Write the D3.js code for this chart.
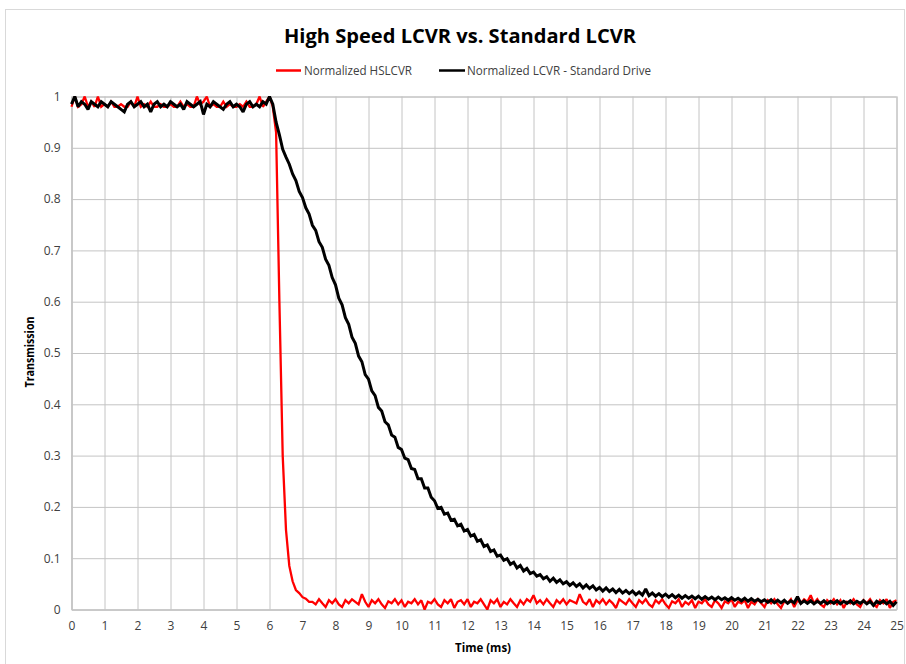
<!DOCTYPE html>
<html><head><meta charset="utf-8">
<script src="https://cdn.jsdelivr.net/npm/d3@7"></script>
<style>body{margin:0;background:#fff} svg{display:block}</style>
</head><body><svg id="c" width="906" height="664"></svg>
<script>
const chartTitle = "High Speed LCVR vs. Standard LCVR";
const seriesNames = ["Normalized HSLCVR", "Normalized LCVR - Standard Drive"];
const seriesColors = ["#ff0000", "#000000"];
const xAxisTitle = "Time (ms)";
const yAxisTitle = "Transmission";
const sampleStep = 0.1; // ms between samples, first sample at 0 ms
const xTickValues = [0,1,2,3,4,5,6,7,8,9,10,11,12,13,14,15,16,17,18,19,20,21,22,23,24,25];
const yTickValues = [0,0.1,0.2,0.3,0.4,0.5,0.6,0.7,0.8,0.9,1];

// Normalized HSLCVR (red), one value per 0.1 ms from 0 to 25 ms
const hslcvrValues = [
0.98,1.0,0.98,0.985,1.0,0.98,0.99,0.98,1.0,0.98,
0.985,0.98,0.99,0.98,0.98,0.985,0.98,0.98,0.99,0.98,
1.0,0.98,0.985,0.98,0.99,0.98,0.98,0.985,0.98,0.98,
0.985,0.98,0.98,0.99,0.98,0.985,0.98,0.98,1.0,0.985,
0.99,1.0,0.98,0.985,0.98,0.98,0.99,0.98,0.985,0.98,
0.98,0.985,0.98,0.99,0.98,0.98,0.985,1.0,0.98,0.99,
1.0,0.98,
0.93,0.60,0.30,0.155,0.085,0.055,0.038,0.032,0.024,0.021,0.015,
0.015,0.01,0.02,0.012,0.005,0.018,0.012,0.02,0.01,0.005,
0.018,0.012,0.02,0.015,0.01,0.03,0.015,0.005,0.018,0.012,
0.02,0.01,0.003,0.016,0.012,0.02,0.01,0.018,0.005,0.015,
0.012,0.02,0.01,0.018,0.0,0.015,0.012,0.02,0.01,0.005,
0.018,0.012,0.02,0.003,0.015,0.018,0.01,0.02,0.005,0.015,
0.012,0.02,0.01,0.0,0.018,0.012,0.02,0.005,0.015,0.01,
0.02,0.012,0.005,0.018,0.01,0.02,0.015,0.028,0.012,0.018,
0.01,0.02,0.012,0.005,0.018,0.012,0.02,0.01,0.018,0.015,
0.012,0.03,0.015,0.01,0.02,0.005,0.018,0.012,0.02,0.01,
0.018,0.012,0.003,0.02,0.015,0.01,0.02,0.012,0.005,0.018,
0.012,0.02,0.01,0.005,0.018,0.012,0.02,0.01,0.003,0.016,
0.012,0.02,0.005,0.015,0.01,0.018,0.003,0.015,0.012,0.02,
0.01,0.005,0.018,0.012,0.003,0.016,0.012,0.02,0.005,0.015,
0.012,0.018,0.003,0.015,0.01,0.02,0.012,0.005,0.018,0.012,
0.02,0.01,0.003,0.016,0.012,0.02,0.005,0.018,0.012,0.02,
0.015,0.028,0.012,0.02,0.01,0.005,0.018,0.012,0.02,0.01,
0.018,0.003,0.015,0.012,0.02,0.01,0.005,0.018,0.012,0.02,
0.01,0.005,0.018,0.012,0.02,0.003,0.015,0.018
];

// Normalized LCVR - Standard Drive (black), one value per 0.1 ms from 0 to 25 ms
const standardValues = [
0.985,1.0,0.98,0.99,0.985,0.975,0.99,0.985,0.98,0.99,
0.985,0.98,0.99,0.985,0.98,0.975,0.97,0.985,0.99,0.98,
0.985,0.99,0.98,0.985,0.97,0.985,0.99,0.98,0.985,0.98,
0.99,0.985,0.98,0.985,0.975,0.99,0.985,0.98,0.985,0.99,
0.965,0.985,0.98,0.99,0.985,0.98,0.975,0.985,0.99,0.98,
0.985,0.98,0.97,0.985,0.99,0.98,0.985,0.98,0.99,0.985,
1.0,0.985,
0.95,0.925,0.897,0.882,0.868,0.849,0.836,0.815,0.803,0.783,
0.771,0.749,0.739,0.717,0.706,0.683,0.671,0.647,0.633,0.607,
0.594,0.569,0.556,0.531,0.519,0.494,0.483,0.458,0.449,0.426,
0.417,0.394,0.387,0.366,0.360,0.340,0.336,0.316,0.312,0.295,
0.292,0.275,0.273,0.255,0.255,0.237,0.237,0.219,0.212,0.197,
0.199,0.186,0.188,0.174,0.176,0.163,0.166,0.153,0.156,0.143,
0.146,0.133,0.136,0.123,0.126,0.113,0.116,0.104,0.106,0.096,
0.099,0.088,0.092,0.081,0.086,0.075,0.080,0.070,0.073,0.065,
0.068,0.060,0.064,0.055,0.061,0.053,0.058,0.050,0.054,0.047,
0.052,0.045,0.050,0.042,0.048,0.041,0.046,0.038,0.043,0.036,
0.042,0.035,0.040,0.033,0.039,0.032,0.037,0.031,0.036,0.029,
0.034,0.028,0.040,0.027,0.032,0.026,0.031,0.025,0.030,0.024,
0.029,0.023,0.028,0.022,0.027,0.022,0.026,0.021,0.026,0.020,
0.025,0.020,0.024,0.019,0.024,0.019,0.023,0.018,0.023,0.018,
0.022,0.017,0.022,0.016,0.021,0.016,0.020,0.015,0.019,0.014,
0.019,0.013,0.018,0.013,0.018,0.012,0.017,0.013,0.025,0.012,
0.017,0.012,0.017,0.011,0.016,0.012,0.017,0.011,0.016,0.012,
0.017,0.011,0.016,0.012,0.017,0.011,0.016,0.012,0.017,0.011,
0.016,0.008,0.016,0.012,0.017,0.011,0.016,0.008,0.015
];

const svg = d3.select("#c");
const W = 906, H = 664;
svg.append("rect").attr("width", W).attr("height", H).attr("fill", "#fff");
svg.append("rect").attr("x", 5.5).attr("y", 9.5).attr("width", 899).attr("height", 670)
  .attr("fill", "none").attr("stroke", "#d9d9d9").attr("stroke-width", 1);

const plotLeft = 71.5, plotRight = 896.5, plotTop = 96.5, plotBottom = 609.5;
const x = d3.scaleLinear().domain([0, 25]).range([plotLeft, plotRight]);
const y = d3.scaleLinear().domain([0, 1]).range([plotBottom, plotTop]);

const fontFam = "'Open Sans', 'Liberation Sans', sans-serif";

// gridlines + axes
const gx = svg.append("g").attr("transform", `translate(0,${plotBottom})`)
  .call(d3.axisBottom(x).tickValues(xTickValues).tickSize(-(plotBottom - plotTop)).tickPadding(12).tickFormat(d => d));
const gy = svg.append("g").attr("transform", `translate(${plotLeft},0)`)
  .call(d3.axisLeft(y).tickValues(yTickValues).tickSize(-(plotRight - plotLeft)).tickPadding(11).tickFormat(d => d));
[gx, gy].forEach(g => {
  g.select(".domain").attr("stroke", "#bfbfbf");
  g.selectAll(".tick line").attr("stroke", "#c4c4c4").attr("stroke-width", 1);
  g.selectAll(".tick text").attr("fill", "#404040").attr("font-size", 12).attr("font-family", fontFam);
});

// series
const line = d3.line().x((d, i) => x(i * sampleStep)).y(d => y(d));
const allSeries = [hslcvrValues, standardValues];
allSeries.forEach((vals, k) => {
  svg.append("path").datum(vals).attr("d", line)
    .attr("fill", "none").attr("stroke", seriesColors[k])
    .attr("stroke-width", k === 0 ? 2.3 : 3).attr("stroke-linejoin", "miter").attr("stroke-miterlimit", 2);
});

// title
svg.append("text").attr("x", 460).attr("y", 43).attr("text-anchor", "middle")
  .attr("font-family", fontFam).attr("font-weight", "bold").attr("font-size", 20)
  .attr("textLength", 352).attr("lengthAdjust", "spacingAndGlyphs")
  .attr("fill", "#000").text(chartTitle);

// legend
const legendItems = [
  {lx1: 276, lx2: 301, tx: 304, tw: 108},
  {lx1: 439, lx2: 465, tx: 467, tw: 184}
];
legendItems.forEach((it, k) => {
  svg.append("line").attr("x1", it.lx1).attr("x2", it.lx2).attr("y1", 70.5).attr("y2", 70.5)
    .attr("stroke", seriesColors[k]).attr("stroke-width", 2.5);
  svg.append("text").attr("x", it.tx).attr("y", 75).attr("font-family", fontFam).attr("font-size", 12)
    .attr("textLength", it.tw).attr("lengthAdjust", "spacingAndGlyphs")
    .attr("fill", "#404040").text(seriesNames[k]);
});

// axis titles
svg.append("text").attr("x", 483).attr("y", 652).attr("text-anchor", "middle")
  .attr("font-family", fontFam).attr("font-weight", "bold").attr("font-size", 12)
  .attr("textLength", 56).attr("lengthAdjust", "spacingAndGlyphs").text(xAxisTitle);
svg.append("text").attr("transform", "translate(34,352) rotate(-90)").attr("text-anchor", "middle")
  .attr("font-family", fontFam).attr("font-weight", "bold").attr("font-size", 12)
  .attr("textLength", 71).attr("lengthAdjust", "spacingAndGlyphs").text(yAxisTitle);
</script></body></html>
